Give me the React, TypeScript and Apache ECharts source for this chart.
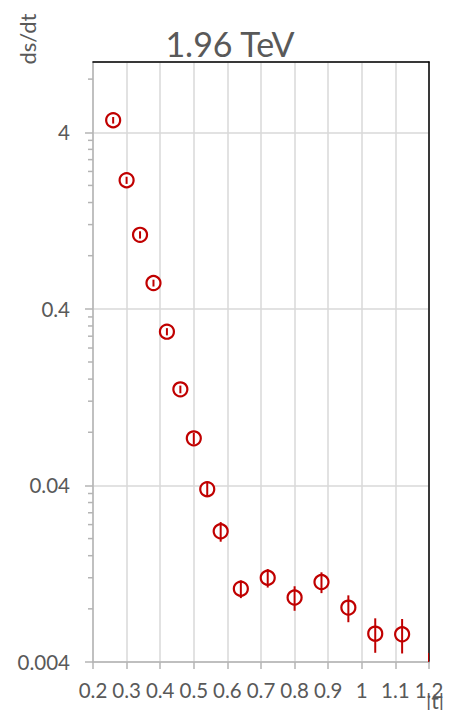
import React, { useEffect, useRef } from "react";
import * as echarts from "echarts";

// |t| values (GeV^2)
const tValues = [0.26, 0.3, 0.34, 0.38, 0.42, 0.46, 0.5, 0.54, 0.58, 0.64, 0.72, 0.8, 0.88, 0.96, 1.04, 1.12, 1.2];
// ds/dt values
const dsdt = [4.68, 2.14, 1.05, 0.56, 0.297, 0.14, 0.0739, 0.0381, 0.022, 0.0104, 0.012, 0.00927, 0.01135, 0.00813, 0.00579, 0.00574, 0.0033];
// symmetric errors
const dsdtErr = [0.2, 0.1, 0.05, 0.025, 0.014, 0.007, 0.0056, 0.0038, 0.0028, 0.0012, 0.00144, 0.00147, 0.00153, 0.00141, 0.00128, 0.00127, 0.0012];

const yMin = 0.004;
const yMax = 10;
const xMin = 0.2;
const xMax = 1.2;
const decadeStarts = [0.004, 0.04, 0.4, 4];
const minorMultipliers = [2, 3, 4, 5, 6, 7, 8, 9];

const toY = (v: number) => Math.log10(v / yMin);

const RED = "#c00000";
const TEXT = "#595959";
const FONT = "Lato, 'Open Sans', sans-serif";

export default function App() {
  const ref = useRef<HTMLDivElement>(null);
  useEffect(() => {
    if (!ref.current) return;
    const chart = echarts.init(ref.current, undefined, { renderer: "svg" });

    const pointData = tValues.map((t, i) => [
      t,
      toY(dsdt[i]),
      toY(dsdt[i] + dsdtErr[i]),
      toY(Math.max(dsdt[i] - dsdtErr[i], 1e-6)),
    ]);

    const minorData: number[][] = [];
    decadeStarts.forEach((d) => {
      minorMultipliers.forEach((m) => {
        const v = d * m;
        if (v < yMax) minorData.push([xMin, toY(v)]);
      });
    });

    chart.setOption({
      animation: false,
      grid: {
        left: 93,
        right: 22,
        top: 62,
        bottom: 48,
        containLabel: false,
        outerBoundsMode: "none",
      },
      xAxis: [
        {
          type: "value",
          min: xMin,
          max: xMax,
          interval: 0.1,
          axisLine: { lineStyle: { color: "#b4b4b4", width: 1.5 } },
          axisTick: { show: true, length: 7, lineStyle: { color: "#b4b4b4", width: 1.5 } },
          axisLabel: {
            color: TEXT,
            fontSize: 20.5,
            fontFamily: FONT,
            margin: 17,
            formatter: (v: number) => String(Math.round(v * 10) / 10),
          },
          splitLine: { show: true, lineStyle: { color: "#d9d9d9", width: 1.5 } },
        },
        {
          type: "value",
          position: "top",
          min: xMin,
          max: xMax,
          axisLine: { show: true, onZero: false, lineStyle: { color: "#000", width: 1.5 } },
          axisTick: { show: false },
          axisLabel: { show: false },
          splitLine: { show: false },
        },
      ],
      yAxis: [
        {
          type: "value",
          min: 0,
          max: toY(yMax),
          interval: 1,
          axisLine: { show: true, onZero: false, lineStyle: { color: "#b4b4b4", width: 1.5 } },
          axisTick: { show: true, length: 8, lineStyle: { color: "#b4b4b4", width: 1.5 } },
          axisLabel: {
            color: TEXT,
            fontSize: 20.5,
            fontFamily: FONT,
            margin: 23,
            showMaxLabel: false,
            formatter: (v: number) => String(Number((yMin * Math.pow(10, v)).toPrecision(2))),
          },
          splitLine: { show: true, lineStyle: { color: "#d9d9d9", width: 1.5 } },
        },
        {
          type: "value",
          position: "right",
          min: 0,
          max: toY(yMax),
          axisLine: { show: true, onZero: false, lineStyle: { color: "#000", width: 1.5 } },
          axisTick: { show: false },
          axisLabel: { show: false },
          splitLine: { show: false },
        },
      ],
      graphic: [
        {
          type: "text",
          x: 230,
          y: 43,
          style: {
            text: "1.96 TeV",
            fill: TEXT,
            font: `34px ${FONT}`,
            textAlign: "center",
            textVerticalAlign: "middle",
          },
        },
        {
          type: "text",
          x: 27,
          y: 39,
          rotation: Math.PI / 2,
          style: {
            text: "ds/dt",
            fill: TEXT,
            font: `22px ${FONT}`,
            textAlign: "center",
            textVerticalAlign: "middle",
          },
        },
        {
          type: "text",
          x: 435,
          y: 700,
          style: {
            text: "|t|",
            fill: TEXT,
            font: `21px ${FONT}`,
            textAlign: "center",
            textVerticalAlign: "middle",
          },
        },
      ],
      series: [
        {
          type: "custom",
          name: "minor ticks",
          clip: false,
          silent: true,
          data: minorData,
          renderItem: (params: any, api: any) => {
            const p = api.coord([api.value(0), api.value(1)]);
            return {
              type: "line",
              shape: { x1: p[0] - 5, y1: p[1], x2: p[0], y2: p[1] },
              style: { stroke: "#b4b4b4", lineWidth: 1.5 },
            };
          },
        },
        {
          type: "custom",
          name: "1.96 TeV",
          clip: true,
          data: pointData,
          encode: { x: 0, y: 1 },
          renderItem: (params: any, api: any) => {
            const c = api.coord([api.value(0), api.value(1)]);
            const hi = api.coord([api.value(0), api.value(2)]);
            const lo = api.coord([api.value(0), api.value(3)]);
            return {
              type: "group",
              children: [
                {
                  type: "circle",
                  shape: { cx: c[0], cy: c[1], r: 7 },
                  style: { fill: "#fff", stroke: RED, lineWidth: 2.2 },
                },
                {
                  type: "line",
                  shape: { x1: c[0], y1: hi[1], x2: c[0], y2: lo[1] },
                  style: { stroke: RED, lineWidth: 2 },
                },
              ],
            };
          },
        },
      ],
    });
    return () => chart.dispose();
  }, []);

  return (
    <div
      ref={ref}
      style={{ position: "absolute", left: 0, top: 0, width: 451, height: 710, background: "#fff" }}
    />
  );
}
